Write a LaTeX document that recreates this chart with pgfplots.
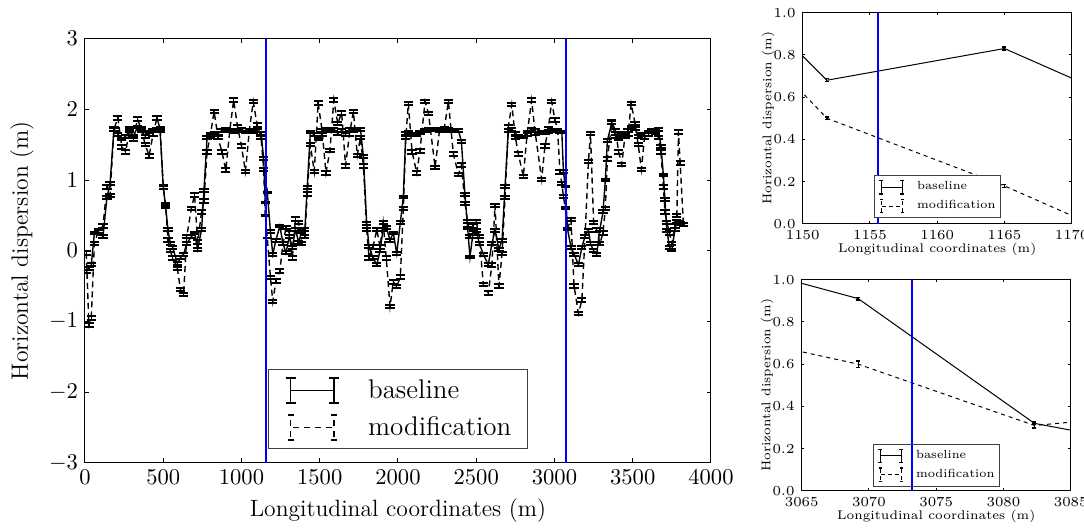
\RequirePackage{fix-cm}
\documentclass[border=0pt]{standalone}
\usepackage{pgfplots}
\usepackage{pgfplotstable}
\pgfplotsset{compat=1.18}

\pgfplotstableread{
x b be m me
8 -0.30 0.02 -0.03 0.025
25 -0.25 0.02 -1.05 0.025
40 -0.20 0.02 -0.95 0.025
60 0.25 0.02 0.10 0.025
85 0.27 0.02 0.28 0.025
115 0.20 0.02 0.35 0.025
140 0.75 0.02 0.90 0.025
160 0.95 0.02 0.78 0.025
185 1.72 0.02 1.72 0.025
210 1.65 0.02 1.88 0.025
235 1.58 0.02 1.47 0.025
260 1.62 0.02 1.40 0.025
285 1.70 0.02 1.72 0.025
310 1.62 0.02 1.58 0.025
335 1.75 0.02 1.86 0.025
360 1.70 0.02 1.72 0.025
385 1.62 0.02 1.50 0.025
410 1.68 0.02 1.34 0.025
435 1.70 0.02 1.65 0.025
460 1.72 0.02 1.88 0.025
480 1.70 0.02 1.72 0.025
500 0.90 0.02 0.90 0.025
515 0.63 0.02 0.65 0.025
530 0.30 0.02 0.15 0.025
545 0.10 0.02 0.00 0.025
560 0.05 0.02 -0.10 0.025
590 -0.18 0.02 -0.25 0.025
610 -0.10 0.02 -0.55 0.025
630 -0.05 0.02 -0.62 0.025
650 0.10 0.02 0.20 0.025
680 0.20 0.02 0.60 0.025
700 0.25 0.02 0.79 0.025
720 0.02 0.02 0.12 0.025
745 0.30 0.02 0.55 0.025
760 0.85 0.02 0.70 0.025
780 1.60 0.02 1.40 0.025
800 1.65 0.02 1.62 0.025
825 1.66 0.02 1.97 0.025
850 1.66 0.02 1.60 0.025
875 1.70 0.02 1.40 0.025
900 1.72 0.02 1.14 0.025
925 1.70 0.02 1.70 0.025
950 1.68 0.02 2.13 0.025
975 1.70 0.02 1.75 0.025
1000 1.72 0.02 1.48 0.025
1025 1.68 0.02 1.12 0.025
1050 1.70 0.02 1.70 0.025
1075 1.69 0.02 2.11 0.025
1100 1.70 0.02 1.78 0.025
1125 1.66 0.02 1.60 0.025
1142 1.30 0.02 1.15 0.025
1151.8 0.68 0.007 0.50 0.006
1165 0.83 0.007 0.18 0.006
1185 0.27 0.02 -0.38 0.025
1200 -0.05 0.02 -0.72 0.025
1220 0.15 0.02 -0.43 0.025
1245 0.35 0.02 -0.29 0.025
1265 0.10 0.02 0.10 0.025
1285 -0.03 0.02 0.33 0.025
1305 0.20 0.02 0.25 0.025
1325 0.05 0.02 -0.10 0.025
1345 0.30 0.02 0.45 0.025
1365 0.12 0.02 0.40 0.025
1385 0.27 0.02 0.10 0.025
1405 0.30 0.02 0.20 0.025
1420 0.90 0.02 0.80 0.025
1440 1.68 0.02 1.50 0.025
1465 1.64 0.02 1.12 0.025
1490 1.58 0.02 2.09 0.025
1515 1.65 0.02 1.70 0.025
1540 1.72 0.02 1.10 0.025
1565 1.70 0.02 1.42 0.025
1590 1.72 0.02 2.13 0.025
1615 1.66 0.02 1.80 0.025
1640 1.70 0.02 1.95 0.025
1665 1.65 0.02 1.20 0.025
1690 1.72 0.02 1.65 0.025
1715 1.70 0.02 1.97 0.025
1740 1.72 0.02 1.35 0.025
1760 1.72 0.02 1.60 0.025
1779 1.33 0.02 1.20 0.025
1800 0.39 0.02 0.30 0.025
1815 0.06 0.02 -0.10 0.025
1840 -0.10 0.02 0.05 0.025
1865 -0.20 0.02 0.30 0.025
1885 0.00 0.02 0.05 0.025
1905 0.30 0.02 0.40 0.025
1925 0.33 0.02 -0.10 0.025
1949 0.15 0.02 -0.79 0.025
1970 0.25 0.02 -0.44 0.025
1992 -0.04 0.02 -0.51 0.025
2015 0.40 0.02 -0.37 0.025
2034 0.76 0.02 0.60 0.025
2050 1.66 0.02 1.60 0.025
2066 1.68 0.02 2.08 0.025
2090 1.65 0.02 1.40 0.025
2120 1.64 0.02 1.10 0.025
2140 1.67 0.02 1.41 0.025
2173 1.70 0.02 2.11 0.025
2195 1.72 0.02 1.94 0.025
2237 1.71 0.02 1.18 0.025
2265 1.70 0.02 1.70 0.025
2295 1.70 0.02 1.72 0.025
2322 1.71 0.02 2.11 0.025
2354 1.70 0.02 1.37 0.025
2386 1.70 0.02 1.08 0.025
2405 1.55 0.02 1.21 0.025
2428 0.79 0.02 0.67 0.025
2445 0.32 0.02 0.41 0.025
2460 -0.09 0.02 0.20 0.025
2480 0.26 0.02 0.35 0.025
2500 0.28 0.02 0.41 0.025
2520 0.10 0.02 0.20 0.025
2545 -0.05 0.02 -0.48 0.025
2577 -0.20 0.02 -0.60 0.025
2600 0.10 0.02 -0.20 0.025
2620 0.29 0.02 0.64 0.025
2645 0.02 0.02 -0.50 0.025
2665 0.15 0.02 -0.04 0.025
2684 0.91 0.02 0.75 0.025
2705 1.70 0.02 1.75 0.025
2727 1.72 0.02 2.07 0.025
2750 1.66 0.02 1.60 0.025
2769 1.62 0.02 1.37 0.025
2801 1.61 0.02 1.05 0.025
2825 1.68 0.02 1.65 0.025
2854 1.72 0.02 2.13 0.025
2875 1.66 0.02 1.70 0.025
2918 1.68 0.02 1.01 0.025
2939 1.67 0.02 1.48 0.025
2960 1.69 0.02 1.72 0.025
2982 1.70 0.02 2.11 0.025
3003 1.70 0.02 1.85 0.025
3020 1.70 0.02 1.70 0.025
3035 1.68 0.02 1.11 0.025
3047 1.68 0.02 0.95 0.025
3057 1.12 0.02 0.77 0.025
3069.2 0.91 0.007 0.60 0.015
3082.3 0.32 0.007 0.31 0.012
3105 0.05 0.02 0.44 0.025
3125 -0.05 0.02 -0.50 0.025
3153 -0.20 0.02 -0.89 0.025
3175 0.05 0.02 -0.70 0.025
3195 0.20 0.02 0.20 0.025
3217 0.29 0.02 1.26 0.025
3230 0.10 0.02 1.66 0.025
3250 0.00 0.02 0.40 0.025
3270 -0.05 0.02 0.29 0.025
3290 0.30 0.02 0.10 0.025
3310 0.55 0.02 0.25 0.025
3325 1.00 0.02 0.60 0.025
3338 1.56 0.02 1.30 0.025
3366 1.81 0.02 1.82 0.025
3390 1.62 0.02 1.70 0.025
3410 1.58 0.02 1.40 0.025
3430 1.64 0.02 1.22 0.025
3450 1.66 0.02 1.62 0.025
3470 1.70 0.02 1.65 0.025
3490 1.75 0.02 2.08 0.025
3515 1.73 0.02 1.80 0.025
3535 1.62 0.02 1.50 0.025
3555 1.64 0.02 1.15 0.025
3575 1.65 0.02 1.60 0.025
3600 1.68 0.02 1.65 0.025
3620 1.70 0.02 1.70 0.025
3645 1.70 0.02 1.68 0.025
3664 1.72 0.02 1.60 0.025
3680 1.48 0.02 1.40 0.025
3696 1.07 0.02 0.90 0.025
3706 0.72 0.02 0.55 0.025
3718 0.29 0.02 0.40 0.025
3735 0.05 0.02 0.25 0.025
3750 0.01 0.02 0.10 0.025
3770 0.30 0.02 0.35 0.025
3782 0.41 0.02 0.50 0.025
3792 0.40 0.02 1.68 0.025
3803 0.38 0.02 1.24 0.025
3824 0.37 0.02 0.37 0.025
}\disp

\pgfplotsset{
  common/.style={
    scale only axis, anchor=south west,
    tick align=inside,
    axis line style={line width=0.5pt},
    every tick/.style={black, line width=0.5pt},
    /pgf/number format/1000 sep={},
    clip=true,
  },
  inset/.style={
    common, width=134.5pt, height=105.7pt,
    ymin=0, ymax=1, ytick={0,0.2,0.4,0.6,0.8,1.0},
    major tick length=1.3pt,
    tick label style={font=\fontsize{6.9pt}{8pt}\selectfont},
    yticklabel style={/pgf/number format/.cd, fixed, fixed zerofill, precision=1},
    xlabel={Longitudinal coordinates (m)},
    ylabel={Horizontal dispersion (m)},
    label style={font=\fontsize{6.3pt}{7.5pt}\selectfont},
    xlabel style={at={(axis description cs:0.5,-0.118)}, anchor=center},
    ylabel style={at={(axis description cs:-0.128,0.5)}, anchor=center},
    legend style={anchor=south, draw=black!75, line width=0.5pt,
      font=\fontsize{5.9pt}{7pt}\selectfont, cells={anchor=west},
      nodes={inner sep=0pt},
      inner xsep=2.4pt, inner ysep=2.2pt, row sep=2.2pt,
      /tikz/every odd column/.append style={column sep=6pt}},
  },
  bline/.style={black, line width=0.5pt, mark=none, forget plot,
    error bars/.cd, y dir=both, y explicit,
    error bar style={line width=0.5pt, solid},
    error mark options={line width=0.6pt, mark size=1pt, solid, rotate=90}},
  mline/.style={black, line width=0.5pt, mark=none, forget plot, dash pattern=on 2pt off 2pt,
    error bars/.cd, y dir=both, y explicit,
    error bar style={line width=0.5pt, solid},
    error mark options={line width=0.6pt, mark size=1pt, solid, rotate=90}},
  smallleg/.style={
    legend image code/.code={
      \draw[line width=0.5pt] (0pt,-3.3pt) -- (0pt,3.3pt) (10.5pt,-3.3pt) -- (10.5pt,3.3pt);
      \draw[line width=0.6pt] (-1pt,-3.3pt) -- (1pt,-3.3pt) (-1pt,3.3pt) -- (1pt,3.3pt)
         (9.5pt,-3.3pt) -- (11.5pt,-3.3pt) (9.5pt,3.3pt) -- (11.5pt,3.3pt);
      \draw[line width=0.5pt,##1] (0pt,0pt) -- (10.5pt,0pt);}},
  bigleg/.style={
    legend image code/.code={
      \draw[line width=0.6pt] (0pt,-6.25pt) -- (0pt,6.25pt) (21.7pt,-6.25pt) -- (21.7pt,6.25pt);
      \draw[line width=1pt] (-2.5pt,-6.25pt) -- (2.5pt,-6.25pt) (-2.5pt,6.25pt) -- (2.5pt,6.25pt)
         (19.2pt,-6.25pt) -- (24.2pt,-6.25pt) (19.2pt,6.25pt) -- (24.2pt,6.25pt);
      \draw[line width=0.7pt,##1] (0pt,0pt) -- (21.7pt,0pt);}},
}

\begin{document}
\begin{tikzpicture}
\path[use as bounding box] (0,0) rectangle (542pt,264.5pt);

% ---------------- main axis ----------------
\begin{axis}[common,
  at={(42.5pt,33.15pt)}, width=313pt, height=212pt,
  xmin=0, xmax=4000, ymin=-3, ymax=3,
  xtick={0,500,...,4000}, ytick={-3,-2,...,3},
  major tick length=2.2pt,
  tick label style={font=\fontsize{11.3pt}{13pt}\selectfont},
  xlabel={Longitudinal coordinates (m)},
  ylabel={Horizontal dispersion (m)},
  label style={font=\fontsize{11.8pt}{14pt}\selectfont},
  xlabel style={at={(axis description cs:0.5,-0.114)}, anchor=center},
  ylabel style={at={(axis description cs:-0.1006,0.5)}, anchor=center},
  legend style={at={(0.5,0.0316)}, anchor=south, draw=black!75, line width=0.5pt,
    fill=white, font=\fontsize{13.5pt}{16pt}\selectfont, cells={anchor=west},
    nodes={inner sep=0pt},
    inner xsep=8.2pt, inner ysep=4pt, row sep=4.8pt,
    /tikz/every odd column/.append style={column sep=14pt}},
]
\addplot[black, line width=0.7pt, mark=none, forget plot,
  error bars/.cd, y dir=both, y explicit,
  error bar style={line width=0.7pt, solid},
  error mark options={line width=1pt, mark size=2.3pt, solid, rotate=90}]
  table[x=x, y=b, y error=be] {\disp};
\addplot[black, line width=0.7pt, mark=none, forget plot, dash pattern=on 3pt off 2pt,
  error bars/.cd, y dir=both, y explicit,
  error bar style={line width=0.7pt, solid},
  error mark options={line width=1pt, mark size=2.3pt, solid, rotate=90}]
  table[x=x, y=m, y error=me] {\disp};
\addplot[blue, line width=0.8pt, forget plot] coordinates {(1155.6,-3) (1155.6,3)};
\addplot[blue, line width=0.8pt, forget plot] coordinates {(3073.2,-3) (3073.2,3)};
\addlegendimage{bigleg}
\addlegendentry{baseline}
\addlegendimage{bigleg, dash pattern=on 3pt off 2.5pt, dash phase=-1.2pt}
\addlegendentry{modification}
\end{axis}

% ---------------- inset 1 ----------------
\begin{axis}[inset, at={(401.35pt,152.5pt)},
  xmin=1150, xmax=1170, xtick={1150,1155,1160,1165,1170},
  legend style={fill=white, at={(0.5,0.027)}}]
\addplot[restrict x to domain=1100:1220, bline] table[x=x, y=b, y error=be] {\disp};
\addplot[restrict x to domain=1100:1220, mline] table[x=x, y=m, y error=me] {\disp};
\addplot[blue, line width=0.7pt, forget plot] coordinates {(1155.6,0) (1155.6,1)};
\addlegendimage{smallleg}
\addlegendentry{baseline}
\addlegendimage{smallleg, dash pattern=on 2pt off 1.5pt, dash phase=-0.5pt}
\addlegendentry{modification}
\end{axis}

% ---------------- inset 2 ----------------
\begin{axis}[inset, at={(400.85pt,19pt)},
  xmin=3065, xmax=3085, xtick={3065,3070,3075,3080,3085},
  legend style={fill=none, at={(0.5,0.02)}}]
\addplot[restrict x to domain=3030:3130, bline] table[x=x, y=b, y error=be] {\disp};
\addplot[restrict x to domain=3030:3130, mline] table[x=x, y=m, y error=me] {\disp};
\addplot[blue, line width=0.7pt, forget plot] coordinates {(3073.2,0) (3073.2,1)};
\addlegendimage{smallleg}
\addlegendentry{baseline}
\addlegendimage{smallleg, dash pattern=on 2pt off 1.5pt, dash phase=-0.5pt}
\addlegendentry{modification}
\end{axis}
\end{tikzpicture}
\end{document}
